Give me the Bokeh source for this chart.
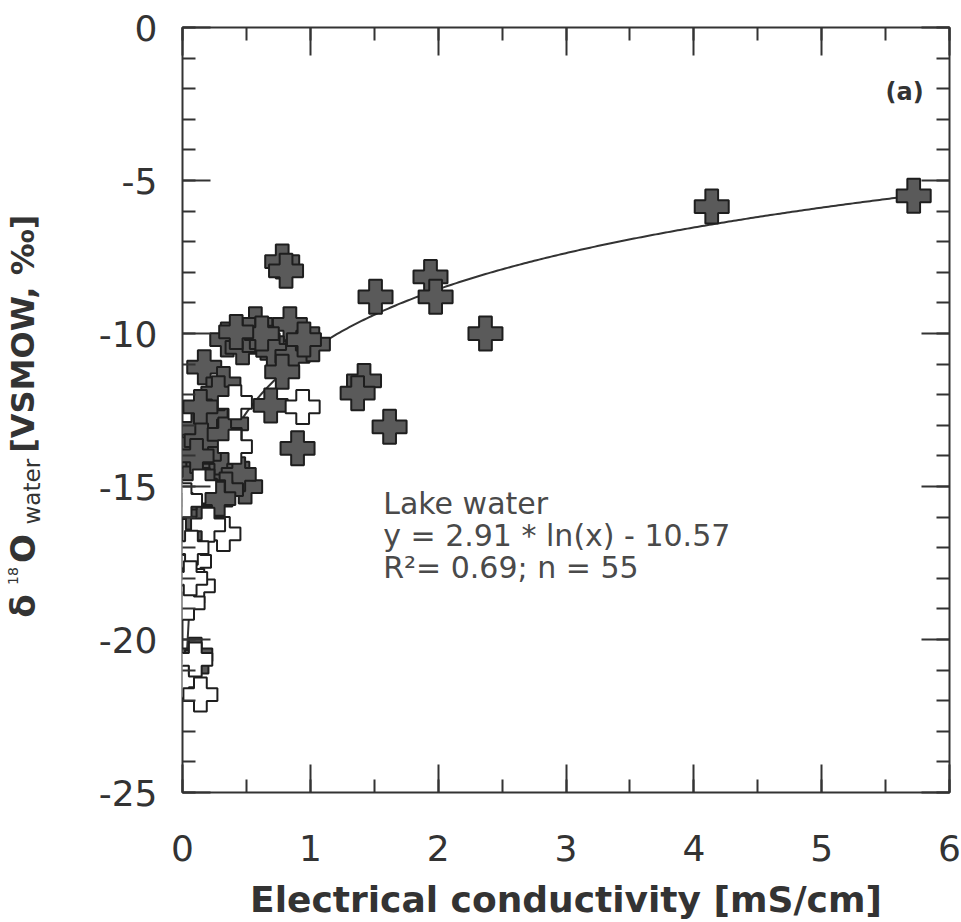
import numpy as np
from bokeh.plotting import figure
from bokeh.layouts import row
from bokeh.models import Label, LinearAxis, SingleIntervalTicker, Range1d
from bokeh.core.properties import value
from bokeh.embed import file_html
from bokeh.resources import INLINE

# Lake water samples (filled crosses)
lake_ec = [5.72, 4.14, 1.94, 1.98, 1.51, 2.37, 1.42, 1.37, 1.62, 0.78,
           0.81, 0.57, 0.84, 0.35, 0.47, 0.52, 0.66, 0.71, 0.86, 1.02,
           0.62, 0.78, 0.17, 0.32, 0.69, 0.90, 0.12, 0.38, 0.18, 0.02,
           0.39, 0.49, 0.26, 0.30, 0.44, 0.08, 0.22, 0.12, 0.16, 0.10,
           0.07, 0.25, 0.34, 0.22, 0.06, 0.28, 0.95, 0.42, 0.14, 0.15,
           0.33, 0.05, 0.20, 0.11, 0.28]
lake_d18o = [-5.50, -5.85, -8.15, -8.80, -8.80, -10.00, -11.55, -11.95, -13.05, -7.65,
             -7.95, -9.70, -9.70, -10.20, -10.45, -10.05, -10.30, -10.55, -10.75, -10.35,
             -10.00, -11.25, -11.10, -11.65, -12.35, -13.75, -13.10, -12.95, -14.20, -13.95,
             -14.40, -15.00, -14.80, -14.05, -14.60, -14.60, -15.30, -15.85, -16.20, -20.50,
             -20.90, -13.60, -15.10, -12.60, -15.20, -11.95, -10.20, -9.95, -12.40, -13.50,
             -13.30, -14.90, -15.00, -14.00, -15.40]

# Other samples (open crosses)
other_ec = [0.94, 0.41, 0.41, 0.13, 0.02, 0.32, 0.20, 0.09, 0.12, 0.04,
            0.07, 0.00, 0.14, 0.10, 0.06]
other_d18o = [-12.40, -12.25, -13.70, -15.00, -15.45, -16.55, -16.25, -17.45, -18.25, -18.80,
              -17.00, -21.35, -21.80, -20.65, -18.00]

# Logarithmic fit for lake water: y = a * ln(x) + b
fit_a = 2.91
fit_b = -10.57
fit_r2 = 0.69
fit_n = 55

x_ticks = [0, 1, 2, 3, 4, 5, 6]
y_ticks = [0, -5, -10, -15, -20, -25]

FONT = "DejaVu Sans"
TXT = "#333333"
LEFT_W = 70  # width of the strip holding the vertical axis title

p = figure(width=961 - LEFT_W, height=922, output_backend="svg", toolbar_location=None,
           x_range=Range1d(0, 6), y_range=Range1d(-25, 0),
           min_border_left=182 - LEFT_W, min_border_right=12, min_border_top=27,
           min_border_bottom=129, x_axis_location=None, y_axis_location=None)
p.xgrid.visible = False
p.ygrid.visible = False
p.outline_line_color = "#333333"
p.outline_line_width = 2
p.background_fill_color = "white"
p.border_fill_color = "white"


def style_axis(ax, interval, minor, show_labels):
    ax.ticker = SingleIntervalTicker(interval=interval, num_minor_ticks=minor)
    ax.axis_line_color = None
    ax.major_tick_in = 28
    ax.major_tick_out = 0
    ax.minor_tick_in = 13
    ax.minor_tick_out = 0
    ax.major_tick_line_color = "#333333"
    ax.minor_tick_line_color = "#333333"
    ax.major_tick_line_width = 2
    ax.minor_tick_line_width = 2
    if show_labels:
        ax.major_label_text_font = FONT
        ax.major_label_text_font_size = "36px"
        ax.major_label_text_color = TXT
    else:
        ax.major_label_text_font_size = "1px"
        ax.major_label_text_color = None
        ax.major_label_standoff = 0


xb = LinearAxis()
style_axis(xb, 1, 2, True)
xb.major_label_standoff = 42
xb.major_label_overrides = {v: str(v) for v in x_ticks}
xb.axis_label = "Electrical conductivity [mS/cm]"
xb.axis_label_text_font = FONT
xb.axis_label_text_font_style = "bold"
xb.axis_label_text_font_size = "36px"
xb.axis_label_text_color = TXT
xb.axis_label_standoff = 15
p.add_layout(xb, "below")

xt = LinearAxis()
style_axis(xt, 1, 2, False)
p.add_layout(xt, "above")

yl = LinearAxis()
style_axis(yl, 5, 5, True)
yl.major_label_standoff = 25
yl.major_label_overrides = {v: str(v) for v in y_ticks}
p.add_layout(yl, "left")

yr = LinearAxis()
style_axis(yr, 5, 5, False)
p.add_layout(yr, "right")

# fitted curve
xs = np.linspace(0.03, max(lake_ec), 300)
p.line(xs, fit_a * np.log(xs) + fit_b, line_color="#333333", line_width=2)

p.scatter(lake_ec, lake_d18o, marker="plus", size=34, fill_color="#5a5a5a",
          line_color="#1e1e1e", line_width=2)
p.scatter(other_ec, other_d18o, marker="plus", size=34, fill_color="white",
          line_color="#1e1e1e", line_width=2)

# annotation block
ann = ["Lake water",
       f"y = {fit_a:.2f} * ln(x) - {abs(fit_b):.2f}",
       f"R\u00b2= {fit_r2:.2f}; n = {fit_n}"]
for i, t in enumerate(ann):
    p.add_layout(Label(x=1.57, y=-15.56 - 1.045 * i, text=t, text_font=FONT,
                       text_font_size="30px", text_color="#4a4a4a",
                       text_baseline="alphabetic"))

p.add_layout(Label(x=5.5, y=-2.1, text="(a)", text_font=FONT, text_font_size="24px",
                   text_font_style="bold", text_color=TXT, text_baseline="alphabetic"))

# vertical axis title in its own strip (frame aligned with the main plot):
# delta, superscript 18, O, subscript water, then the bracketed unit
t = figure(width=LEFT_W, height=922, output_backend="svg", toolbar_location=None,
           x_range=Range1d(0, LEFT_W), y_range=Range1d(-25, 0),
           min_border=0, x_axis_location=None, y_axis_location=None)
t.xgrid.visible = False
t.ygrid.visible = False
t.outline_line_color = None
t.border_fill_color = "white"
t.background_fill_color = "white"

runs = [("\u03b4", "34px", "bold", 22, -19.29),
        ("18", "14px", "normal", 12, -18.22),
        ("O", "34px", "bold", 22, -17.50),
        ("water", "23px", "normal", 31, -16.24),
        ("[VSMOW, \u2030]", "32px", "bold", 22, -13.90)]
for text, size, style, bx, by in runs:
    t.text(x=[bx], y=[by], text=[text], angle=np.pi / 2,
           text_font=value(FONT), text_font_size=value(size),
           text_font_style=style, text_color=TXT,
           text_align="left", text_baseline="alphabetic")

layout = row(t, p, spacing=0)
open("out.html", "w").write(file_html(layout, INLINE))
